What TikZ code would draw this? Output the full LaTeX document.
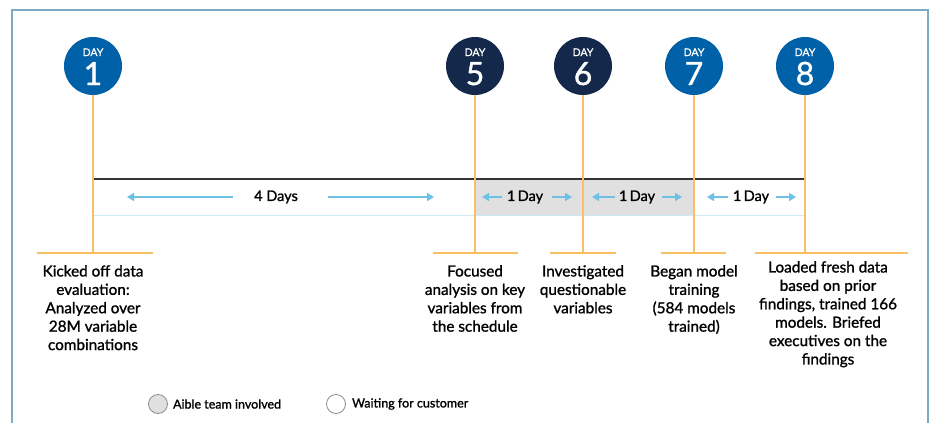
\documentclass[tikz,border=0pt]{standalone}
\usepackage{fontspec}
\setmainfont{Lato}[RawFeature={embolden=1.2}]
\usetikzlibrary{arrows.meta, positioning}
\definecolor{dayblue}{HTML}{0060A8}
\definecolor{daynavy}{HTML}{14284B}
\definecolor{tickorange}{HTML}{F8C062}
\definecolor{spanblue}{HTML}{6EC1E4}
\definecolor{framegrey}{HTML}{7DAAC3}
\definecolor{busygrey}{HTML}{E0E0E0}

\begin{document}
\begin{tikzpicture}[x=1pt, y=-1pt,
	daydot/.style={circle, minimum size=58pt, inner sep=0pt},
	daytag/.style={anchor=base, inner sep=0pt, white, font=\fontsize{10.5}{10.5}\selectfont},
	daynum/.style={anchor=base, inner sep=0pt, white, font=\fontsize{32}{32}\selectfont},
	tickline/.style={tickorange, line width=1.1pt},
	spanarrow/.style={spanblue, line width=1.6pt, -{Triangle[length=7pt, width=8pt]}},
	spanlabel/.style={inner sep=0pt, font=\fontsize{14.5}{14.5}\selectfont},
	event/.style={anchor=north, inner sep=0pt, align=center, font=\fontsize{15.3}{18.4}\selectfont},
	legdot/.style={circle, draw=black!45, line width=0.8pt, minimum size=19pt, inner sep=0pt},
	legtext/.style={inner sep=0pt, font=\fontsize{12.5}{12.5}\selectfont}]
	\useasboundingbox (0,0) rectangle (933,423);
	\draw[framegrey, line width=1.8pt] (12,423) -- (12,10) -- (928,10) -- (928,423);

	% day markers
	\node[daydot, fill=dayblue] at (93,66) (d1){};
	\node[daydot, fill=daynavy] at (475,66) (d5){};
	\node[daydot, fill=daynavy] at (583,66) (d6){};
	\node[daydot, fill=dayblue] at (694,66) (d7){};
	\node[daydot, fill=dayblue] at (805,66) (d8){};
	\foreach \d/\n in {d1/1, d5/5, d6/6, d7/7, d8/8}{
		\node[daytag, yshift=10pt] at (\d.center) {DAY};
		\node[daynum, yshift=-19pt] at (\d.center) {\n};
	}

	% time band
	\fill[busygrey] (475,179) rectangle (694,215);
	\draw[spanblue!35, line width=1pt] (93,215) -- (805,215) -- (805,179);
	\draw[black!80, line width=1.5pt] (93,179) -- (805,179);

	\coordinate (b1) at (93,253);
	\coordinate (b5) at (475,253);
	\coordinate (b6) at (583,253);
	\coordinate (b7) at (694,253);
	\coordinate (b8) at (805,253);
	\draw[tickline] (d1.south) -- (b1);
	\draw[tickline] (d5.south) -- (b5);
	\draw[tickline] (d6.south) -- (b6);
	\draw[tickline] (d7.south) -- (b7);
	\draw[tickline] (d8.south) -- (b8);
	\draw[tickline] ([xshift=-56pt]b1) -- ([xshift=60pt]b1);
	\draw[tickline] ([xshift=-42pt]b5) -- ([xshift=43pt]b5);
	\draw[tickline] ([xshift=-33pt]b6) -- ([xshift=33pt]b6);
	\draw[tickline] ([xshift=-33pt]b7) -- ([xshift=32pt]b7);
	\draw[tickline] ([xshift=-50pt]b8) -- ([xshift=103pt]b8);

	% spans
	\node[spanlabel] at (276,197) (s15){4 Days};
	\node[spanlabel] at (525,197) (s56){1\,Day};
	\node[spanlabel] at (637,197) (s67){1\,Day};
	\node[spanlabel] at (751,197) (s78){1\,Day};
	\draw[spanarrow] ([xshift=-21pt]s15.west) -- (127,197);
	\draw[spanarrow] ([xshift=30pt]s15.east) -- (434,197);
	\draw[spanarrow] ([xshift=-5pt]s56.west) -- (482,197);
	\draw[spanarrow] ([xshift=9pt]s56.east) -- (572,197);
	\draw[spanarrow] ([xshift=-4pt]s67.west) -- (592,197);
	\draw[spanarrow] ([xshift=7pt]s67.east) -- (682,197);
	\draw[spanarrow] ([xshift=-5pt]s78.west) -- (707,197);
	\draw[spanarrow] ([xshift=7pt]s78.east) -- (796,197);

	% events
	\node[event] at (93,265) (e1){Kicked off data\\evaluation:\\Analyzed over\\28M variable\\combinations};
	\node[event] at (475,265) (e5){Focused\\analysis on key\\variables from\\the schedule};
	\node[event] at (583,265) (e6){Investigated\\questionable\\variables};
	\node[event] at (694,265) (e7){Began model\\training\\(584 models\\trained)};
	\node[event] at (828,261) (e8){Loaded fresh data\\based on prior\\findings, trained 166\\models. Briefed\\executives on the\\findings};

	% legend
	\node[legdot, fill=busygrey] at (158,404) (k1){};
	\node[legtext, right=5pt of k1] (k1t){Aible team involved};
	\node[legdot, fill=white] at (336,404) (k2){};
	\node[legtext, right=6pt of k2] (k2t){Waiting for customer};
\end{tikzpicture}
\end{document}
